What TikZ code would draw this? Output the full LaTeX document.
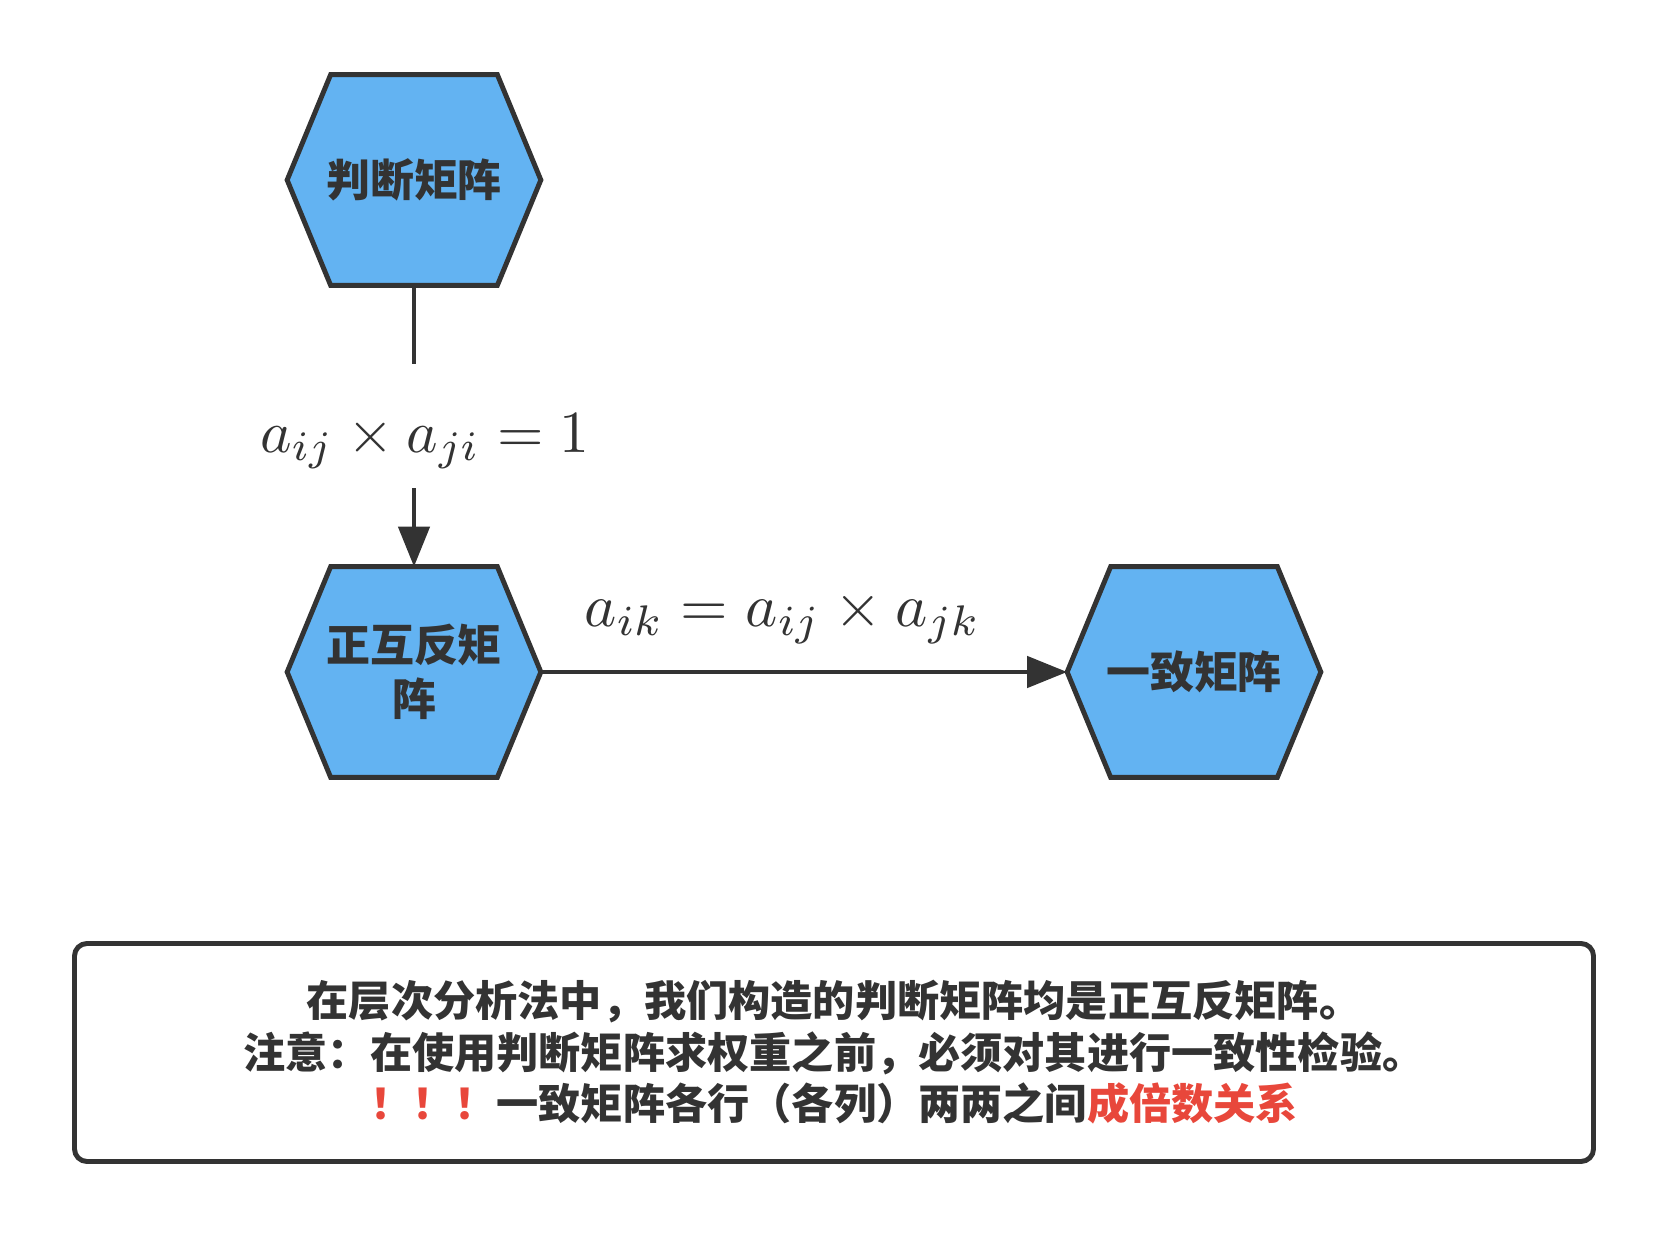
\documentclass[tikz,border=0pt]{standalone}
\usepackage{amsmath}
\usepackage{fontspec}
\newfontfamily\cjk{Noto Sans CJK SC}
\usetikzlibrary{arrows.meta,backgrounds}
\definecolor{ink}{HTML}{333333}
\definecolor{hexblue}{HTML}{63B3F2}
\definecolor{alert}{HTML}{E8473B}
\tikzset{
  hexnode/.style={minimum width=5.06cm,minimum height=4.2cm,inner sep=0pt,
    align=center,font=\cjk\bfseries\fontsize{25}{31}\selectfont},
  hexline/.style={draw=ink,fill=hexblue,line width=2.8pt,line join=miter},
  link/.style={draw=ink,line width=2.6pt},
  formula/.style={transform shape,inner sep=0pt},
}

\begin{document}
\begin{tikzpicture}[text=ink,>={Triangle[length=.8cm,width=.62cm]}]
  \useasboundingbox (0,0) rectangle (33.36,-24.72);
  \node[hexnode] (judge) at (8.28,-3.6) {判断矩阵};
  \node[hexnode] (recip) at (8.28,-13.44) {正互反矩\\阵};
  \node[hexnode] (consist) at (23.88,-13.44) {一致矩阵};
  \begin{scope}[on background layer]
    \foreach \n in {judge,recip,consist}
      \path[hexline] ([xshift=.87cm]\n.north west)
        -- ([xshift=-.87cm]\n.north east) -- (\n.east)
        -- ([xshift=-.87cm]\n.south east)
        -- ([xshift=.87cm]\n.south west) -- (\n.west) -- cycle;
  \end{scope}
  \node[formula,scale=3.4,text height=.512cm,text depth=.206cm]
    (rule1) at (8.5,-8.52) {$a_{ij}\times a_{ji}=1$};
  \node[formula,scale=3.48] (rule2) at (15.65,-12.34)
    {$a_{ik}=a_{ij}\times a_{jk}$};
  \draw[link] (judge.south) -- (judge.south |- rule1.north);
  \draw[link,->] (recip.north |- rule1.south) -- (recip.north);
  \draw[link,->] (recip.east) -- (consist.west);
  \node[draw=ink,line width=2.8pt,rounded corners=.25cm,
        minimum width=30.38cm,minimum height=4.36cm,align=center,
        font=\cjk\bfseries\fontsize{24}{29.3}\selectfont] (note)
    at (16.68,-21.05)
    {在层次分析法中，我们构造的判断矩阵均是正互反矩阵。\\
     注意：在使用判断矩阵求权重之前，必须对其进行一致性检验。\\
     \textcolor{alert}{！！！}一致矩阵各行（各列）两两之间\textcolor{alert}{成倍数关系}};
\end{tikzpicture}
\end{document}
